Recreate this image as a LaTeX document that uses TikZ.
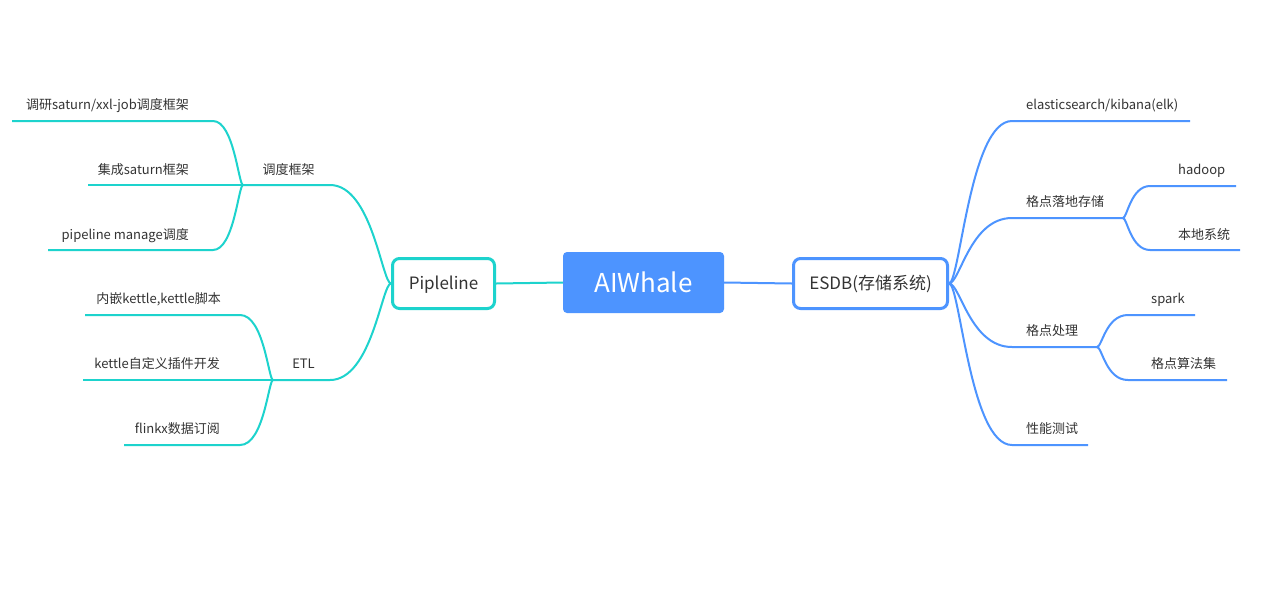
\documentclass[tikz,border=0pt]{standalone}
\usepackage{fontspec}
\setmainfont{Noto Sans CJK SC}
\definecolor{tealc}{HTML}{1DD3CD}
\definecolor{bluec}{HTML}{4D94FF}
\definecolor{txtc}{HTML}{333333}
\begin{document}
\begin{tikzpicture}[x=1pt,y=-1pt,
  tl/.style={draw=tealc,line width=2pt},
  bl/.style={draw=bluec,line width=2pt},
  lbl/.style={inner sep=0pt,font=\fontsize{13}{15}\selectfont,text=txtc},
  box/.style={rounded corners=7pt,line width=3pt,fill=white,minimum height=50pt,inner sep=0pt,text height=15pt,text depth=3pt,font=\fontsize{17}{20}\selectfont,text=txtc},
  rootbox/.style={rounded corners=4pt,fill=bluec,minimum width=161pt,minimum height=61pt,inner sep=0pt,text height=21pt,text depth=2pt,font=\fontsize{26}{29}\selectfont,text=white}]
\useasboundingbox (0,0) rectangle (1265,603);
\fill[white] (0,0) rectangle (1265,603);

% main nodes
\node[rootbox] (root) at (643.5,282.5) {AIWhale};
\node[box,draw=tealc,minimum width=102pt] (pip) at (443.5,283.5) {Pipleline};
\node[box,draw=bluec,minimum width=154pt] (esdb) at (870.5,283.5) {ESDB(存储系统)};

% labels left
\node[lbl,anchor=base] (A) at (288.5,174) {调度框架};
\node[lbl,anchor=base east] (a1) at (189,109) {调研saturn/xxl-job调度框架};
\node[lbl,anchor=base east] (a2) at (189,174) {集成saturn框架};
\node[lbl,anchor=base east] (a3) at (189,239) {pipeline manage调度};
\node[lbl,anchor=base] (B) at (303.5,368) {ETL};
\node[lbl,anchor=base east] (b1) at (221,303) {内嵌kettle,kettle脚本};
\node[lbl,anchor=base east] (b2) at (220,368) {kettle自定义插件开发};
\node[lbl,anchor=base east] (b3) at (220,433) {flinkx数据订阅};

% labels right
\node[lbl,anchor=base west] (c1) at (1026,109) {elasticsearch/kibana(elk)};
\node[lbl,anchor=base west] (c2) at (1026,206) {格点落地存储};
\node[lbl,anchor=base west] (c21) at (1178,174) {hadoop};
\node[lbl,anchor=base west] (c22) at (1178,239) {本地系统};
\node[lbl,anchor=base west] (c3) at (1026,335) {格点处理};
\node[lbl,anchor=base west] (c31) at (1151,303) {spark};
\node[lbl,anchor=base west] (c32) at (1151,368) {格点算法集};
\node[lbl,anchor=base west] (c4) at (1026,433) {性能测试};

% coordinates
\coordinate (Ae) at (330,185);
\coordinate (jA) at (243,185);
\coordinate (a1e) at (213,121); \coordinate (a1s) at (12,121);
\coordinate (a2s) at (88,185);
\coordinate (a3e) at (213,250); \coordinate (a3s) at (48,250);
\coordinate (Be) at (330,380);
\coordinate (jB) at (273,380);
\coordinate (b1e) at (240,315); \coordinate (b1s) at (85,315);
\coordinate (b2s) at (83,380);
\coordinate (b3e) at (240,445); \coordinate (b3s) at (124,445);

\coordinate (c1s) at (1012,121); \coordinate (c1e) at (1190,121);
\coordinate (c2s) at (1012,218); \coordinate (jC) at (1123,218);
\coordinate (c21s) at (1150,186); \coordinate (c21e) at (1236,186);
\coordinate (c22s) at (1150,250); \coordinate (c22e) at (1240,250);
\coordinate (c3s) at (1012,347); \coordinate (jD) at (1097,347);
\coordinate (c31s) at (1128,315); \coordinate (c31e) at (1195,315);
\coordinate (c32s) at (1128,380); \coordinate (c32e) at (1227,380);
\coordinate (c4s) at (1012,445); \coordinate (c4e) at (1088,445);

% root connectors
\draw[tl] (pip.east) -- (root.west);
\draw[bl] (root.east) -- (esdb.west);

% left branches
\draw[tl] (pip.west) .. controls (382,283) and (372,185) .. (Ae) -- (jA);
\draw[tl] (jA) .. controls (238.5,185) and (234,121) .. (a1e) -- (a1s);
\draw[tl] (jA) -- (a2s);
\draw[tl] (jA) .. controls (238.5,185) and (234,250) .. (a3e) -- (a3s);
\draw[tl] (pip.west) .. controls (382,283) and (372,380) .. (Be) -- (jB);
\draw[tl] (jB) .. controls (268.5,380) and (264,315) .. (b1e) -- (b1s);
\draw[tl] (jB) -- (b2s);
\draw[tl] (jB) .. controls (268.5,380) and (264,445) .. (b3e) -- (b3s);

% right branches
\draw[bl] (esdb.east) .. controls (960,283) and (970,121) .. (c1s) -- (c1e);
\draw[bl] (esdb.east) .. controls (960,283) and (970,218) .. (c2s) -- (jC);
\draw[bl] (jC) .. controls (1127,218) and (1131,186) .. (c21s) -- (c21e);
\draw[bl] (jC) .. controls (1127,218) and (1131,250) .. (c22s) -- (c22e);
\draw[bl] (esdb.east) .. controls (960,283) and (970,347) .. (c3s) -- (jD);
\draw[bl] (jD) .. controls (1102,347) and (1106,315) .. (c31s) -- (c31e);
\draw[bl] (jD) .. controls (1102,347) and (1106,380) .. (c32s) -- (c32e);
\draw[bl] (esdb.east) .. controls (960,283) and (970,445) .. (c4s) -- (c4e);
\end{tikzpicture}
\end{document}
